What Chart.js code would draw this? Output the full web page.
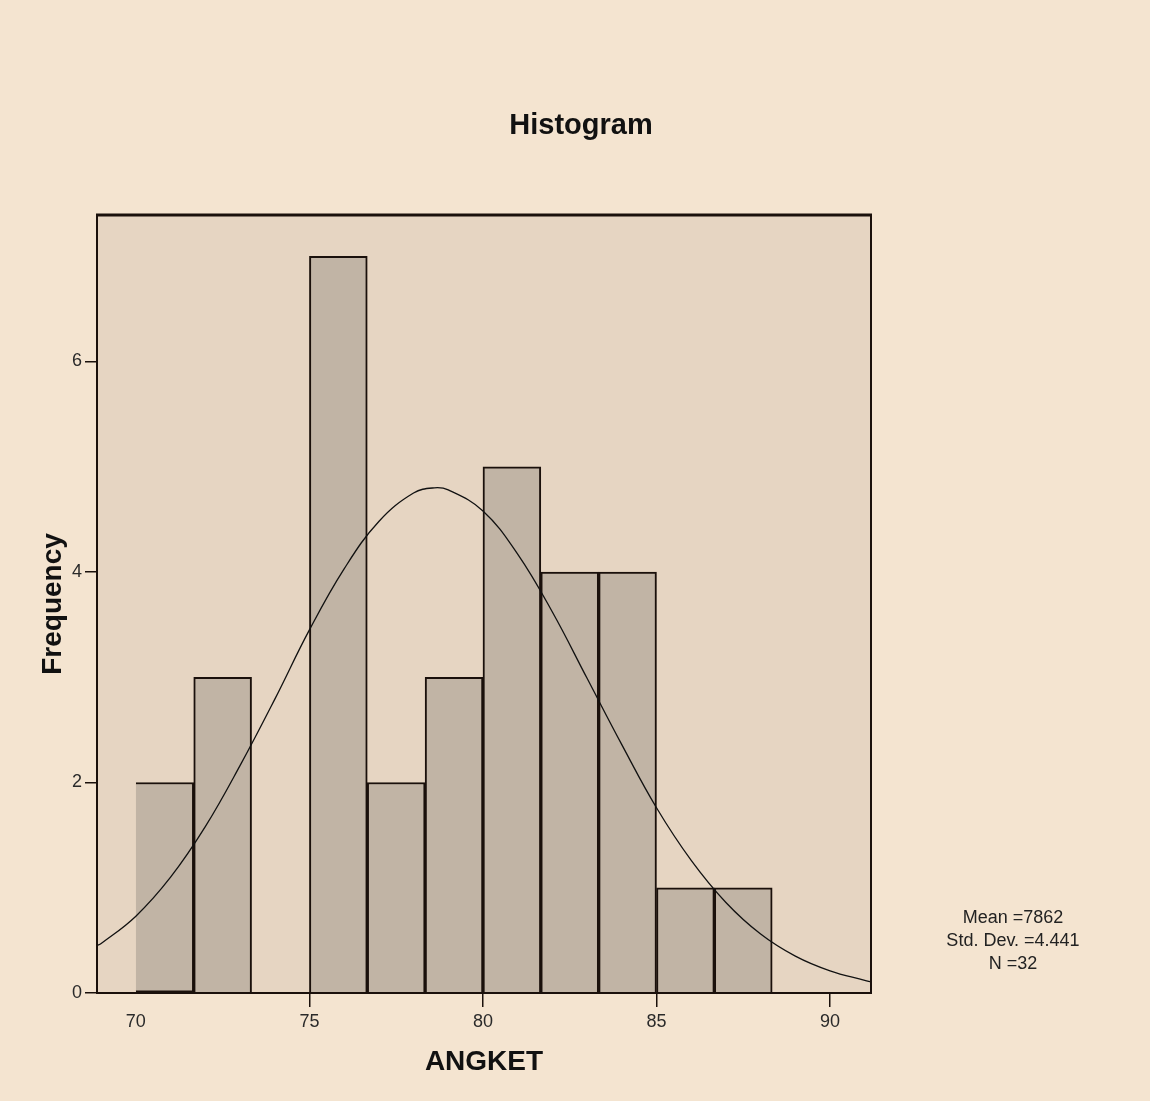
<!DOCTYPE html>
<html><head><meta charset="utf-8">
<script src="https://cdn.jsdelivr.net/npm/chart.js@4.4.1/dist/chart.umd.min.js"></script>
<style>html,body{margin:0;padding:0;background:#f4e4d0;}#wrap{width:1150px;height:1101px;position:relative;}</style>
</head><body><div id="wrap"><canvas id="c" width="1150" height="1101"></canvas></div>
<script>
// ---- data ----
const binEdges = [70, 71.667, 73.333, 75, 76.667, 78.333, 80, 81.667, 83.333, 85, 86.667, 88.333];
const frequencies = [2, 3, 0, 7, 2, 3, 5, 4, 4, 1, 1];
const curveX = [68.88, 69, 70, 71, 72, 73, 74, 75, 76, 77, 78, 78.6, 79, 80, 81, 82, 83, 84, 85, 86, 87, 88, 89, 90, 91, 91.18];
const curveY = [0.45, 0.47, 0.73, 1.10, 1.58, 2.16, 2.79, 3.45, 4.03, 4.48, 4.75, 4.80, 4.78, 4.58, 4.17, 3.62, 2.99, 2.36, 1.76, 1.26, 0.86, 0.56, 0.35, 0.21, 0.12, 0.105];
const xTickValues = [70, 75, 80, 85, 90];
const xTickLabels = ['70', '75', '80', '85', '90'];
const yTickValues = [0, 2, 4, 6];
const chartTitle = 'Histogram';
const xTitle = 'ANGKET';
const yTitle = 'Frequency';
const statsLines = ['Mean =7862', 'Std. Dev. =4.441', 'N =32'];

// ---- build ----
const barData = frequencies.map((f, i) => ({x: (binEdges[i] + binEdges[i + 1]) / 2, y: f}));
const lineData = curveX.map((x, i) => ({x: x, y: curveY[i]}));

const PLOT_BG = '#e6d5c2';
const BAR_BG = '#c1b4a5';
const INK = '#1a100b';

const decor = {
  id: 'decor',
  beforeDatasetsDraw(chart) {
    const {ctx, chartArea: a} = chart;
    ctx.save();
    ctx.fillStyle = PLOT_BG;
    ctx.fillRect(a.left, a.top, a.right - a.left, a.bottom - a.top);
    ctx.restore();
  },
  afterDraw(chart) {
    const {ctx, chartArea: a} = chart;
    ctx.save();
    ctx.strokeStyle = INK;
    ctx.lineWidth = 2;
    ctx.strokeRect(a.left, a.top, a.right - a.left, a.bottom - a.top);
    ctx.lineWidth = 3;
    ctx.beginPath(); ctx.moveTo(a.left - 1, a.top); ctx.lineTo(a.right + 1, a.top); ctx.stroke();
    ctx.fillStyle = '#111';
    ctx.textAlign = 'center';
    ctx.textBaseline = 'middle';
    ctx.font = 'bold 29px "Liberation Sans", Arial, sans-serif';
    ctx.fillText(chartTitle, 581, 126);
    ctx.fillStyle = '#222';
    ctx.font = '18px "Liberation Sans", Arial, sans-serif';
    statsLines.forEach((s, i) => ctx.fillText(s, 1013, 918 + i * 23));
    ctx.restore();
  }
};

new Chart(document.getElementById('c'), {
  data: {
    datasets: [
      {
        type: 'line',
        data: lineData,
        borderColor: '#111',
        borderWidth: 1.3,
        pointRadius: 0,
        tension: 0.4,
        fill: false,
        order: 0
      },
      {
        type: 'bar',
        data: barData,
        backgroundColor: BAR_BG,
        borderColor: INK,
        borderWidth: 2,
        borderSkipped: (c) => c.dataIndex === 0 ? 'left' : 'start',
        barPercentage: 1,
        categoryPercentage: 1,
        grouped: false,
        order: 1
      }
    ]
  },
  options: {
    responsive: false,
    animation: false,
    events: [],
    layout: {padding: {left: 0, right: 279, top: 215, bottom: 0}},
    plugins: {legend: {display: false}, tooltip: {enabled: false}, title: {display: false}},
    scales: {
      x: {
        type: 'linear',
        offset: false,
        min: 68.88,
        max: 91.18,
        afterFit: (s) => { s.height = 108; },
        afterBuildTicks: (s) => { s.ticks = xTickValues.map(v => ({value: v})); },
        ticks: {
          autoSkip: false,
          maxRotation: 0,
          padding: 4,
          color: '#2a2a2a',
          font: {family: '"Liberation Sans", Arial, sans-serif', size: 18},
          callback: (v) => xTickLabels[xTickValues.indexOf(v)]
        },
        grid: {
          offset: false,
          drawOnChartArea: false,
          drawTicks: true,
          tickLength: 14,
          lineWidth: 1.5,
          color: (c) => (c.tick && c.tick.value === 70) ? 'rgba(0,0,0,0)' : INK
        },
        border: {display: true, color: INK, width: 2},
        title: {
          display: true,
          text: xTitle,
          color: '#111',
          font: {family: '"Liberation Sans", Arial, sans-serif', size: 28, weight: 'bold'},
          padding: {top: 0, bottom: 22}
        }
      },
      y: {
        type: 'linear',
        min: 0,
        max: 7.392,
        afterFit: (s) => { s.width = 97; },
        afterBuildTicks: (s) => { s.ticks = yTickValues.map(v => ({value: v})); },
        ticks: {
          padding: 3,
          color: '#2a2a2a',
          font: {family: '"Liberation Sans", Arial, sans-serif', size: 18}
        },
        grid: {
          drawOnChartArea: false,
          drawTicks: true,
          tickLength: 12,
          lineWidth: 1.5,
          color: INK
        },
        border: {display: true, color: INK, width: 2},
        title: {
          display: true,
          text: yTitle,
          color: '#111',
          font: {family: '"Liberation Sans", Arial, sans-serif', size: 28, weight: 'bold'},
          padding: {top: 36, bottom: 0}
        }
      }
    }
  },
  plugins: [decor]
});
</script>
</body></html>
